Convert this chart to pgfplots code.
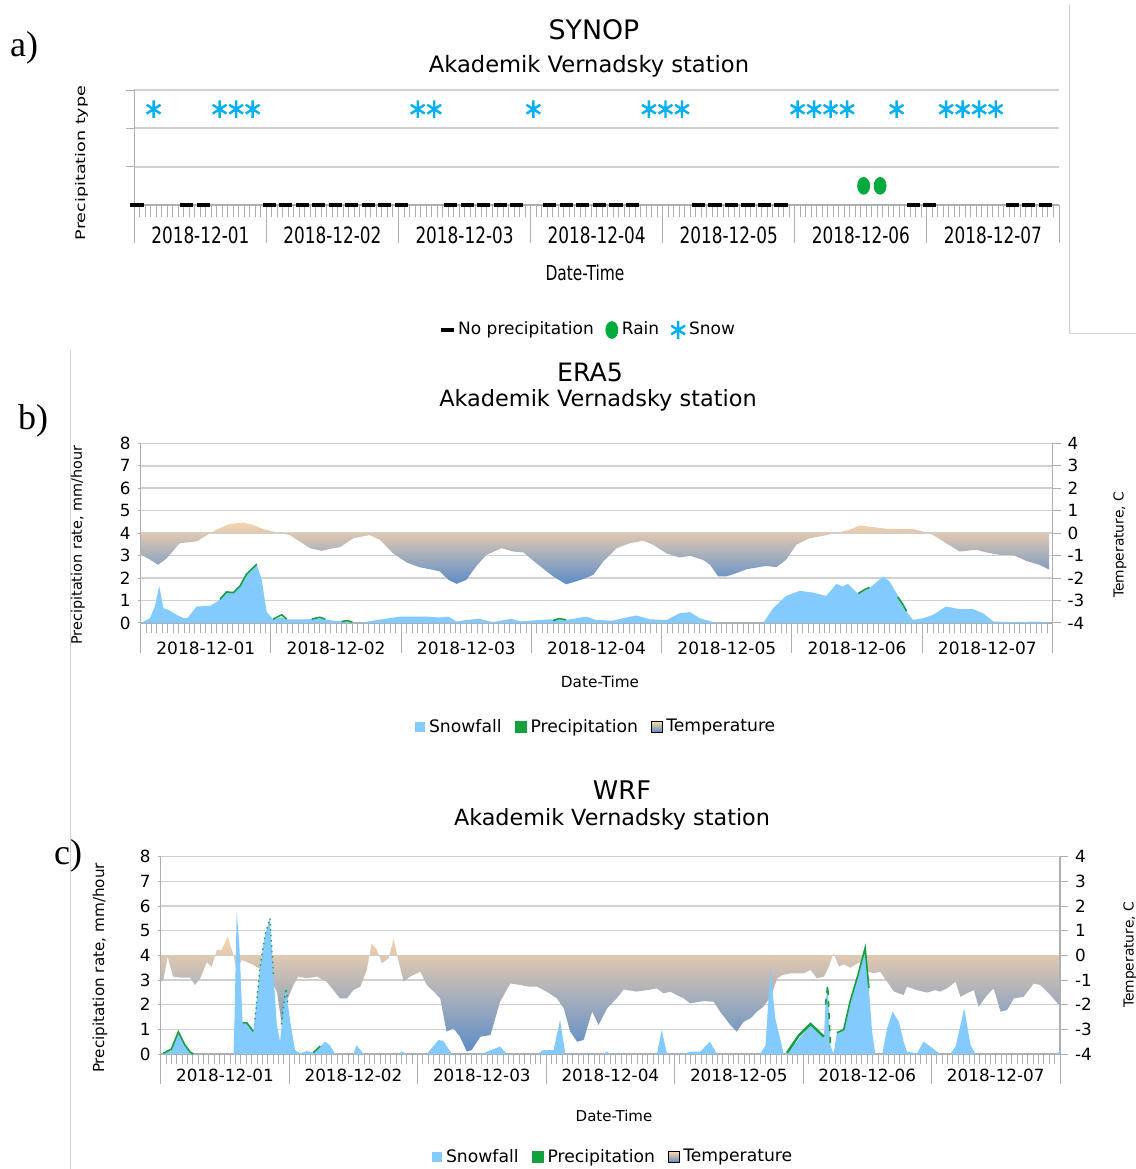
\documentclass[border=0pt]{standalone}
\usepackage{fontspec}
\setmainfont{DejaVu Sans}
\newfontfamily\dvnarrow[FakeStretch=0.75]{DejaVu Sans}
\newfontfamily\dvwide[FakeStretch=1.33]{DejaVu Sans}
\newfontfamily\lserif{Liberation Serif}
\usepackage{pgfplots}
\pgfplotsset{compat=1.18}
\definecolor{snowblue}{RGB}{131,202,255}
\definecolor{precgreen}{RGB}{20,160,60}
\definecolor{tpeach}{RGB}{249,212,172}
\definecolor{tblue}{RGB}{92,140,200}
\definecolor{gridgray}{RGB}{208,208,208}
\definecolor{axisgray}{RGB}{175,175,175}
\definecolor{snowcyan}{RGB}{0,176,240}
\definecolor{raingreen}{RGB}{0,170,60}
\newcommand{\fs}[1]{\fontsize{#1}{#1}\selectfont}
\pgfplotsset{
  dayaxis/.style={
    scale only axis, xmin=0, xmax=168, clip=false,
    axis x line*=bottom, axis y line*=left,
    axis line style={axisgray, line width=0.6pt},
    tick align=outside,
    tick style={axisgray, line width=0.5pt},
    xtick={12,36,...,156},
    xticklabels={2018-12-01,2018-12-02,2018-12-03,2018-12-04,2018-12-05,2018-12-06,2018-12-07},
    minor xtick={0,1,...,168},
    extra x ticks={0,24,...,168},
    extra x tick labels={},
  },
  tempaxis/.style={
    scale only axis, xmin=0, xmax=168, ymin=-4, ymax=4, clip=false,
    axis x line=none, axis y line*=right,
    axis line style={axisgray, line width=0.6pt},
    ytick={-4,-3,...,4}, yticklabels={-4,-3,-2,-1,0,1,2,3,4},
    ymajorgrids, grid style={gridgray, line width=0.75pt},
    tick align=outside, major tick length=4pt,
    tick style={axisgray, line width=0.5pt},
    yticklabel style={font=\fs{8.4}},
  },
  sqlegend/.style={legend image code/.code={\fill[#1] (0pt,-2.6pt) rectangle (5.2pt,2.6pt);}},
}
\begin{document}
\begin{tikzpicture}
\path[use as bounding box] (0pt,0pt) rectangle (568pt,-584.5pt);
% frame artefacts
\draw[gray!35, line width=0.5pt] (534.5pt,-2.5pt) -- (534.5pt,-166.5pt) -- (568pt,-166.5pt);
\draw[gray!35, line width=0.5pt] (35pt,-175pt) -- (35pt,-584.5pt);

% ---------------- panel a -----------------
\begin{axis}[dayaxis, at={(67.15pt,-102.5pt)}, anchor=south west,
  width=462.35pt, height=57.5pt, ymin=0, ymax=3,
  ytick={1,2,3}, yticklabels={}, ymajorgrids, grid style={gridgray, line width=1pt},
  major tick length=4pt, minor tick length=6pt,
  extra x tick style={major tick length=19pt},
  xticklabel style={font=\dvnarrow\fs{11.25}, anchor=center, yshift=-11pt},
  legend style={at={(axis description cs:0.4928,-1.087)}, anchor=center, draw=none, fill=none,
    font=\fs{8.5}, legend columns=3, /tikz/every even column/.append style={column sep=4pt}},
  legend image code/.code={\draw[#1] plot coordinates {(2.5pt,0pt)};},
]
\addplot[only marks, mark=-, mark size=3.3pt, mark options={black, line width=1.8pt}] coordinates {
(0.5,0) (9.5,0) (12.5,0) (24.5,0) (27.5,0) (30.5,0) (33.5,0) (36.5,0) (39.5,0) (42.5,0) (45.5,0) (48.5,0)
(57.5,0) (60.5,0) (63.5,0) (66.5,0) (69.5,0) (75.5,0) (78.5,0) (81.5,0) (84.5,0) (87.5,0) (90.5,0)
(102.5,0) (105.5,0) (108.5,0) (111.5,0) (114.5,0) (117.5,0) (141.5,0) (144.5,0) (159.5,0) (162.5,0) (165.5,0)};
\addlegendentry{No precipitation}
\addplot[only marks, mark=*, mark size=3pt, mark options={raingreen, draw=raingreen, yscale=1.4}] coordinates {
(132.5,0.5) (135.5,0.5)};
\addlegendentry{Rain}
\addplot[only marks, mark=asterisk, mark size=4pt, mark options={snowcyan, line width=1.2pt, yscale=1.1}] coordinates {
(3.5,2.5) (15.5,2.5) (18.5,2.5) (21.5,2.5) (51.5,2.5) (54.5,2.5) (72.5,2.5) (93.5,2.5) (96.5,2.5) (99.5,2.5)
(120.5,2.5) (123.5,2.5) (126.5,2.5) (129.5,2.5) (138.5,2.5) (147.5,2.5) (150.5,2.5) (153.5,2.5) (156.5,2.5)};
\addlegendentry{Snow}
\end{axis}
\node[font=\fs{13.4}] at (297pt,-15pt) {SYNOP};
\node[font=\fs{11.3}] at (294.5pt,-33pt) {Akademik Vernadsky station};
\node[font=\dvnarrow\fs{10.3}] at (292.5pt,-136.5pt) {Date-Time};
\node[font=\dvwide\fs{6.6}, rotate=90] at (41pt,-81.5pt) {Precipitation type};
\node[font=\lserif\fs{18}] at (12pt,-24pt) {a)};

% ---------------- panel b -----------------
\begin{axis}[tempaxis, at={(70.35pt,-311.45pt)}, anchor=south west, width=455.9pt, height=89.8pt]
\addplot[draw=none, top color=tpeach, bottom color=tblue] coordinates {
(0,0) (0,-0.95) (1.5,-1.15) (3.2,-1.41) (4.8,-1.12) (7.2,-0.45) (10.3,-0.37) (12.8,0) (14,0.15) (16.4,0.41)
(18.9,0.47) (20.7,0.37) (22.6,0.18) (25,0.03) (27.5,-0.09) (29.3,-0.37) (31.2,-0.67) (33.3,-0.79) (35.5,-0.67)
(36.7,-0.63) (39.2,-0.23) (42.2,-0.09) (44.1,-0.30) (46.5,-0.9) (49,-1.31) (51.4,-1.52) (53.9,-1.64) (55.1,-1.71)
(56.7,-2.08) (58.2,-2.26) (60,-2.08) (61.9,-1.45) (63.7,-0.97) (66.5,-0.67) (68.6,-0.82) (70.5,-0.86) (72.9,-1.34)
(76,-1.93) (78.4,-2.28) (81.5,-2.05) (83.4,-1.86) (85.2,-1.27) (87.7,-0.67) (90.1,-0.45) (92.6,-0.34) (94.4,-0.52)
(96.9,-0.9) (99.3,-1.09) (101.2,-1.01) (103.6,-1.19) (104.9,-1.41) (106.4,-1.93) (107.9,-1.93) (109.8,-1.78)
(111.6,-1.61) (115.3,-1.46) (117.1,-1.52) (118.9,-1.19) (120.8,-0.52) (123.2,-0.23) (125.7,-0.12) (128.1,0)
(130.6,0.15) (132.5,0.34) (134.3,0.29) (137.4,0.19) (140.4,0.18) (142.3,0.18) (144.2,0.07) (146,-0.08)
(148.4,-0.45) (150.9,-0.82) (154,-0.74) (155.8,-0.86) (158.3,-0.97) (160.7,-0.97) (163.2,-1.24) (165.6,-1.41)
(167.4,-1.63) (167.4,0)};
\end{axis}
\begin{axis}[dayaxis, at={(70.35pt,-311.45pt)}, anchor=south west, width=455.9pt, height=89.8pt,
  ymin=0, ymax=8, ytick={0,1,...,8}, yticklabels={0,1,2,3,4,5,6,7,8},
  yticklabel style={font=\fs{8.4}},
  major tick length=1.5pt, minor tick length=5pt,
  extra x tick style={major tick length=15pt},
  xticklabel style={font=\fs{8.5}, anchor=center, yshift=-11pt},
  legend style={at={(axis description cs:0.5004,-0.5796)}, anchor=center, draw=none, fill=none,
    font=\fs{8.6}, legend columns=3, /tikz/every even column/.append style={column sep=4.5pt}},
]
\addplot[draw=none, fill=snowblue, sqlegend={snowblue}] coordinates {
(0,0) (1.7,0.2) (2.6,0.73) (3.4,1.65) (4.2,0.65) (5.1,0.58) (6.6,0.36) (7.9,0.21) (8.6,0.21) (10.3,0.73)
(12.8,0.76) (14.6,1.03) (15.8,1.35) (17.1,1.32) (18.3,1.62) (19.5,2.14) (21.4,2.59) (22.3,1.92) (23.2,0.5)
(24.4,0.16) (26,0.25) (26.9,0.16) (30.6,0.16) (33,0.2) (35.5,0.1) (37.9,0.04) (40.4,0) (42.8,0.1) (45.3,0.19)
(47.8,0.28) (52.7,0.28) (55.1,0.24) (56.7,0.28) (58.2,0.06) (60,0.13) (62.5,0.19) (63.1,0.13) (64.9,0.04)
(68.3,0.18) (69.9,0.07) (75.4,0.16) (78.4,0.13) (82.1,0.28) (83.9,0.13) (87,0.1) (88.9,0.21) (91.3,0.33)
(93.8,0.16) (96.9,0.13) (99.3,0.43) (101.2,0.48) (103,0.21) (105.5,0.04) (106.7,0) (114.7,0) (116.5,0.65)
(118.9,1.2) (121.4,1.43) (123.9,1.35) (126.3,1.2) (128.2,1.74) (129.4,1.62) (130.3,1.74) (132.2,1.29)
(134.3,1.55) (136.8,2.07) (138,1.84) (139.8,1.1) (141.1,0.5) (142.3,0.13) (144.2,0.21) (146,0.36) (148.4,0.73)
(150.9,0.61) (153.4,0.61) (155.2,0.43) (157.1,0.06) (160.7,0.04) (165.6,0.06) (167.3,0)} \closedcycle;
\addlegendentry{Snowfall}
\addplot[precgreen, line width=0.8pt, sqlegend={precgreen}] coordinates {
(14.6,1.05) (15.8,1.38) (17.1,1.35) (18.3,1.65) (19.5,2.17) (21.4,2.62)};
\addlegendentry{Precipitation}
\addplot[precgreen, line width=0.8pt, forget plot] coordinates {(24.4,0.17) (26,0.36) (26.9,0.17)};
\addplot[precgreen, line width=0.8pt, forget plot] coordinates {(31.5,0.17) (33,0.25) (34,0.17)};
\addplot[precgreen, line width=0.8pt, forget plot] coordinates {(37,0.06) (38,0.1) (39,0.04)};
\addplot[precgreen, line width=0.8pt, forget plot] coordinates {(76,0.1) (77,0.19) (78.4,0.14)};
\addplot[precgreen, line width=0.8pt, forget plot] coordinates {(132.2,1.31) (133.5,1.5) (134.3,1.58)};
\addplot[precgreen, line width=0.8pt, forget plot] coordinates {(139.5,1.15) (140.5,0.8) (141.1,0.52)};
\addlegendimage{legend image code/.code={\shade[top color=tpeach, bottom color=tblue] (0pt,-2.6pt) rectangle (5.2pt,2.6pt);}}
\addlegendentry{Temperature}
\end{axis}
\node[font=\fs{12.65}] at (295pt,-186pt) {ERA5};
\node[font=\fs{11.2}] at (299pt,-200pt) {Akademik Vernadsky station};
\node[font=\fs{7.65}] at (300pt,-341pt) {Date-Time};
\node[font=\fs{7.2}, rotate=90] at (39pt,-272.5pt) {Precipitation rate, mm/hour};
\node[font=\fs{6.9}, rotate=90] at (560pt,-272.5pt) {Temperature, C};
\node[font=\lserif\fs{18}] at (16.5pt,-210.5pt) {b)};

% ---------------- panel c -----------------
\begin{axis}[tempaxis, at={(80.35pt,-527pt)}, anchor=south west, width=449.65pt, height=98.65pt]
\addplot[draw=none, top color=tpeach, bottom color=tblue] coordinates {
(0,0) (0,-1.07) (0.5,-1.0) (1.3,-0.05) (2.3,-0.86) (3.6,-0.9) (5.5,-0.9) (6.4,-1.2) (7.4,-0.93) (8.6,-0.28)
(9.5,-0.46) (10.5,0.22) (11.4,0.22) (12.5,0.76) (13.6,0.01) (14.2,-0.64) (15.1,-0.19) (16.7,-0.32) (18.6,-0.55)
(20.4,-0.93) (21.7,-1.47) (22.6,-2.76) (23.5,-1.88) (24.8,-1.2) (25.7,-0.86) (27.3,-0.93) (29.2,-0.86) (31,-1.07)
(33.5,-1.74) (34.8,-1.74) (36,-1.41) (37.3,-1.27) (38.5,-0.59) (39.4,0.49) (40.4,0.22) (41.3,-0.32) (42.6,-0.12)
(43.5,0.69) (44.3,-0.12) (45.4,-1.07) (46.6,-0.86) (48.5,-0.66) (49.7,-1.2) (51,-1.47) (52.2,-1.74) (53.4,-3.09)
(54.7,-2.96) (55.9,-3.3) (57.2,-3.9) (58.1,-3.84) (59.7,-3.3) (61.6,-3.23) (63.4,-1.88) (65.3,-1.14) (67.2,-1.2)
(68.7,-1.27) (70.3,-1.27) (72.1,-1.47) (74,-1.74) (75.3,-2.15) (76.5,-3.09) (77.8,-3.5) (79,-3.43) (80.6,-2.28)
(81.8,-2.82) (83.4,-2.15) (85.2,-1.74) (86.5,-1.38) (88.9,-1.47) (90.8,-1.41) (92.7,-1.34) (93.9,-1.54)
(95.2,-1.47) (96.4,-1.61) (97.7,-1.74) (98.9,-1.95) (101.4,-1.85) (103.3,-1.88) (104.5,-2.28) (106.4,-2.82)
(107.6,-3.09) (108.9,-2.69) (110.2,-2.55) (111.4,-2.28) (112.6,-2.08) (113.9,-1.68) (115.2,-0.93) (116.1,-0.8)
(117.6,-0.73) (120.1,-0.73) (121.4,-0.59) (122.6,-0.93) (123.9,-0.86) (124.8,-0.46) (125.7,0.08) (126.7,-0.46)
(127.6,-0.36) (128.8,-0.5) (130.7,-0.26) (131.5,-0.6) (133.2,-0.73) (134.4,-0.66) (135.7,-1.07) (137,-1.47)
(138.8,-1.61) (139.4,-1.27) (141.3,-1.41) (143.2,-1.51) (144.7,-1.41) (145.6,-1.47) (146.9,-1.34) (148.5,-1.07)
(149.4,-1.68) (150.6,-1.54) (151.9,-1.41) (152.8,-2.08) (154.4,-1.61) (155.6,-1.34) (156.9,-2.28) (158.1,-2.22)
(159.4,-1.74) (161.2,-1.68) (163.1,-1.14) (164.3,-1.2) (166.2,-1.61) (167.8,-2.01) (167.8,0)};
\end{axis}
\begin{axis}[dayaxis, at={(80.35pt,-527pt)}, anchor=south west, width=449.65pt, height=98.65pt,
  ymin=0, ymax=8, ytick={0,1,...,8}, yticklabels={0,1,2,3,4,5,6,7,8},
  yticklabel style={font=\fs{8.4}},
  major tick length=1.5pt, minor tick length=5pt,
  extra x tick style={major tick length=15pt},
  xticklabel style={font=\fs{8.4}, anchor=center, yshift=-9pt},
  legend style={at={(axis description cs:0.504,-0.522)}, anchor=center, draw=none, fill=none,
    font=\fs{8.6}, legend columns=3, /tikz/every even column/.append style={column sep=4.5pt}},
]
\addplot[draw=none, fill=snowblue, sqlegend={snowblue}] coordinates {
(0,0) (0.5,0.03) (2,0.15) (3.3,0.88) (4.5,0.35) (5.5,0.05) (6.1,0) (13.6,0) (13.8,1.5) (14.2,5.77) (14.7,4.4)
(15.3,1.24) (16.1,1.24) (17.3,0.9) (17.9,2.1) (18.6,3.6) (19.5,4.82) (20.4,5.5) (21.1,3.07) (21.7,1.18)
(22.3,0.5) (22.9,1.85) (23.4,2.66) (24.2,1.31) (25.1,0.16) (26,0.03) (27.3,0.12) (28.5,0.05) (29.8,0.3)
(30.7,0.5) (31.6,0.36) (32.6,0) (36,0) (36.6,0.36) (37.9,0) (44.5,0) (45,0.1) (46,0) (49.7,0) (51.9,0.57)
(52.8,0.53) (54.4,0) (60,0) (61,0.1) (63.4,0.3) (64.7,0) (70.3,0) (71.5,0.16) (73.4,0.16) (74.6,1.38) (75.6,0)
(82.7,0) (83.4,0.1) (84,0) (92.7,0) (93.6,0.97) (94.6,0) (97.7,0) (98.9,0.1) (100.8,0.1) (102.6,0.5) (103.9,0)
(112,0) (113,0.36) (113.9,3.47) (114.8,1.45) (116.4,0) (117,0.03) (121.4,1.18) (123.9,0.68) (124.2,2.0)
(124.6,2.8) (125.1,0.36) (125.7,0) (126.3,0.84) (127.6,0.97) (128.8,2.12) (130.1,3.07) (131.6,4.28)
(132.3,2.66) (132.9,0.9) (133.5,0) (134.8,0) (135.7,1.04) (136.7,1.72) (137.9,1.31) (138.8,0.5) (139.4,0.1)
(141.3,0.03) (142.5,0.5) (143.8,0.3) (145.6,0) (147.5,0) (148.5,0.3) (150.1,1.85) (151.3,0.36) (152.2,0)
(167,0) (167.7,0.07) (168,0)} \closedcycle;
\addlegendentry{Snowfall}
\addplot[precgreen, line width=0.8pt, sqlegend={precgreen}] coordinates {
(0.5,0.03) (2,0.2) (3.3,0.9) (4.5,0.38) (5.5,0.08) (6.1,0)};
\addlegendentry{Precipitation}
\addplot[precgreen, line width=0.8pt, forget plot] coordinates {(15.3,1.26) (16.1,1.26) (17.3,0.92)};
\addplot[precgreen, line width=0.7pt, dotted, forget plot] coordinates {(17.6,1.4) (18.6,3.6) (19.5,4.82) (20.4,5.5) (21.1,3.1)};
\addplot[precgreen, line width=0.7pt, dotted, forget plot] coordinates {(22.6,1.2) (22.9,1.85) (23.4,2.66) (23.8,2.0)};
\addplot[precgreen, line width=0.8pt, forget plot] coordinates {(28.5,0.05) (29.8,0.32)};
\addplot[precgreen, line width=1.2pt, forget plot] coordinates {(117,0.05) (119.2,0.75) (121.4,1.22) (123.9,0.7)};
\addplot[precgreen, line width=0.8pt, dashed, forget plot] coordinates {(124.2,2.0) (124.6,2.8) (125.1,0.4)};
\addplot[precgreen, line width=0.8pt, forget plot] coordinates {(126.3,0.86) (127.6,0.99) (128.8,2.14) (130.1,3.09) (131.6,4.3) (132.3,2.68)};
\addlegendimage{legend image code/.code={\shade[top color=tpeach, bottom color=tblue] (0pt,-2.6pt) rectangle (5.2pt,2.6pt);}}
\addlegendentry{Temperature}
\end{axis}
\node[font=\fs{12.85}] at (311pt,-395pt) {WRF};
\node[font=\fs{11.15}] at (306pt,-409.5pt) {Akademik Vernadsky station};
\node[font=\fs{7.5}] at (307pt,-558pt) {Date-Time};
\node[font=\fs{7.6}, rotate=90] at (50pt,-484pt) {Precipitation rate, mm/hour};
\node[font=\fs{6.9}, rotate=90] at (565pt,-477.5pt) {Temperature, C};
\node[font=\lserif\fs{18}] at (34pt,-428pt) {c)};
\end{tikzpicture}
\end{document}
